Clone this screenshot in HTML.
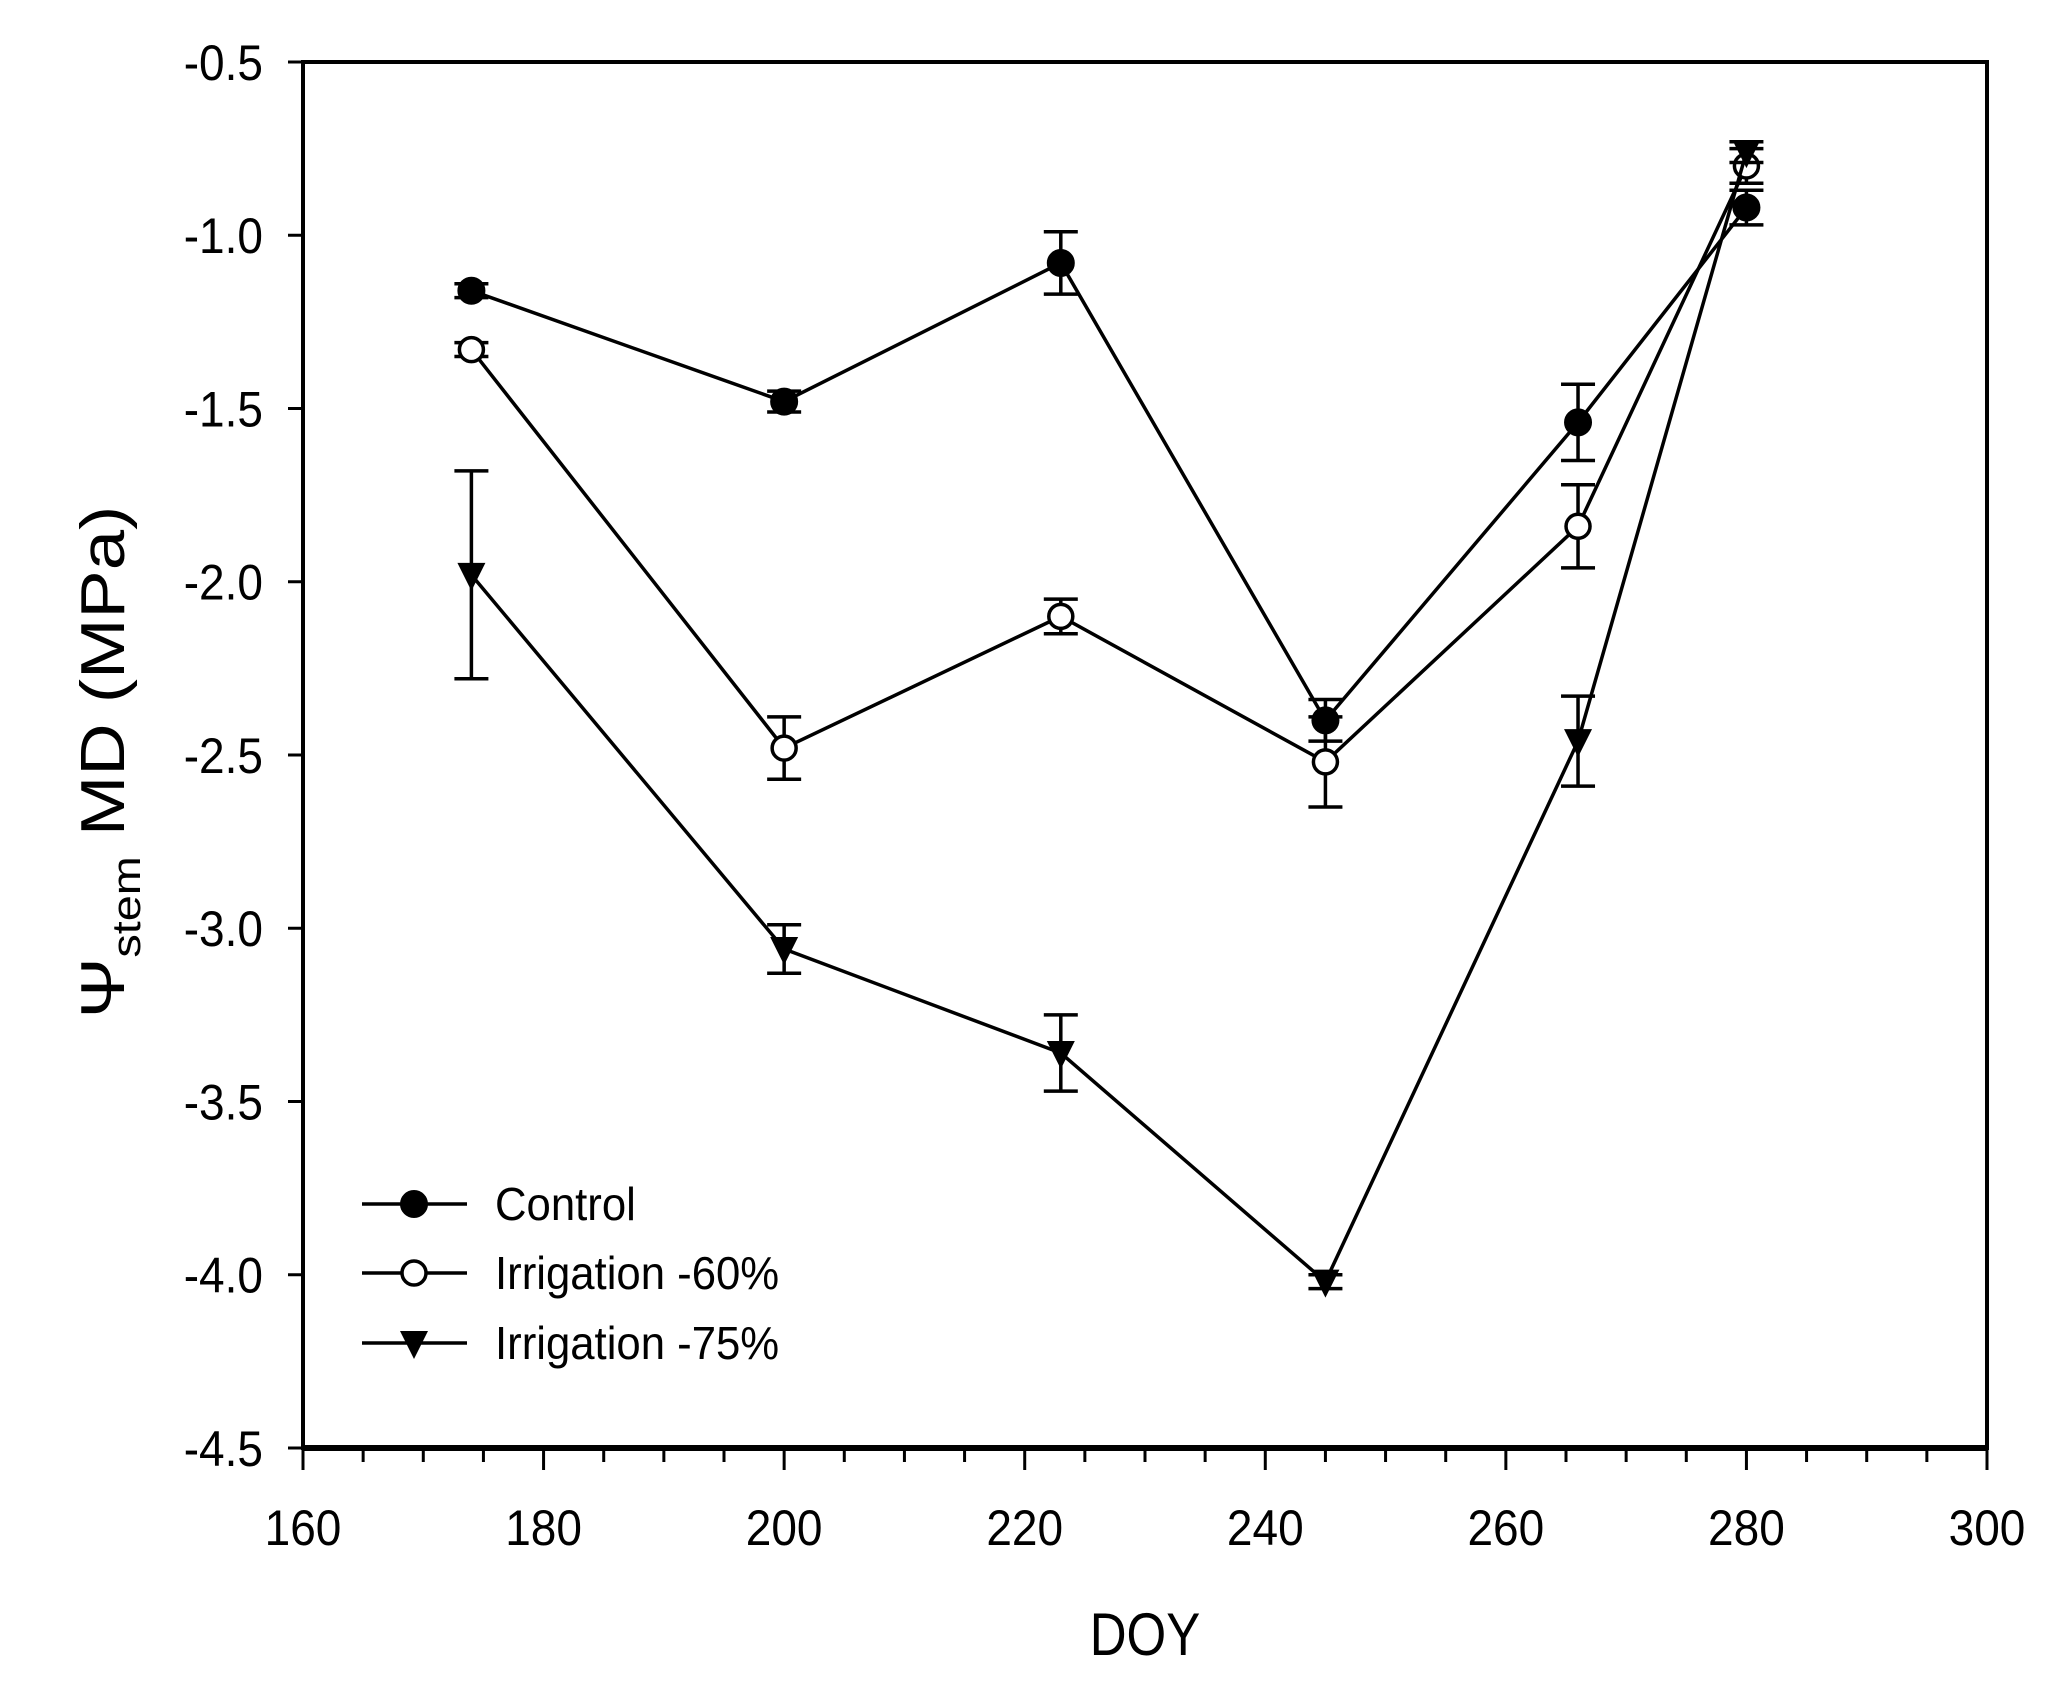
<!DOCTYPE html>
<html><head><meta charset="utf-8">
<style>
html,body{margin:0;padding:0;background:#fff;}
svg{display:block;}
text{font-family:"Liberation Sans",Arial,sans-serif;fill:#000;}
</style></head>
<body>
<svg id="chart" width="2051" height="1683" viewBox="0 0 2051 1683" xmlns="http://www.w3.org/2000/svg">
<g id="axes"></g>
<g id="series"></g>
<g id="legend"></g>
<text x="1145" y="1655" font-size="60" text-anchor="middle" transform="translate(1145 1655) scale(0.85 1) translate(-1145 -1655)">DOY</text>
<text transform="translate(124 762) rotate(-90) scale(1.17 1)" font-size="62" text-anchor="middle">Ψ<tspan font-size="40" dy="16">stem</tspan><tspan dy="-16"> MD (MPa)</tspan></text>
</svg>
<script>
const doy = [174, 200, 223, 245, 266, 280];
const controlVals = [-1.16, -1.48, -1.08, -2.40, -1.54, -0.92];
const controlErr = [0.02, 0.03, 0.09, 0.06, 0.11, 0.05];
const irr60Vals = [-1.33, -2.48, -2.10, -2.52, -1.84, -0.80];
const irr60Err = [0.02, 0.09, 0.05, 0.13, 0.12, 0.05];
const irr75Vals = [-1.98, -3.06, -3.36, -4.02, -2.46, -0.76];
const irr75Err = [0.30, 0.07, 0.11, 0.02, 0.13, 0.03];
const xTicks = [160, 180, 200, 220, 240, 260, 280, 300];
const yTicks = [-0.5, -1.0, -1.5, -2.0, -2.5, -3.0, -3.5, -4.0, -4.5];

const L=303,R=1987,T=62,B=1448;
const xMin=160,xMax=300,yMin=-4.5,yMax=-0.5;
const X=v=>L+(v-xMin)/(xMax-xMin)*(R-L);
const Y=v=>B-(v-yMin)/(yMax-yMin)*(B-T);
const NS="http://www.w3.org/2000/svg";
function mk(tag,attrs,parent){const e=document.createElementNS(NS,tag);for(const k in attrs)e.setAttribute(k,attrs[k]);parent.appendChild(e);return e;}

const axes=document.getElementById('axes');
const frame=mk('rect',{x:L,y:T,width:R-L,height:B-T,fill:'none',stroke:'#000','stroke-width':4},axes);


mk('line',{x1:L,x2:R,y1:B,y2:B,stroke:'#000','stroke-width':6},axes);
for(let v=xMin;v<=xMax;v+=5){
  const major=(v%20===0);
  const t=mk('line',{x1:X(v),x2:X(v),y1:B,y2:B+(major?22:14),stroke:'#000','stroke-width':3},axes);
  
  
}
xTicks.forEach(v=>{
  const t=mk('text',{x:X(v),y:1545,'font-size':50,'text-anchor':'middle',transform:`translate(${X(v)} 0) scale(0.92 1) translate(${-X(v)} 0)`},axes);
  t.textContent=String(v);
  
  
});
yTicks.forEach(v=>{
  const t=mk('line',{x1:L-15,x2:L,y1:Y(v),y2:Y(v),stroke:'#000','stroke-width':3},axes);
  
  
  const l=mk('text',{x:263,y:Y(v)+18,'font-size':50,'text-anchor':'end',transform:`translate(263 0) scale(0.92 1) translate(-263 0)`},axes);
  l.textContent=v.toFixed(1);
  
  
});

const seriesG=document.getElementById('series');
function marker(type,cx,cy,parent){
  let m;
  if(type==='filled') m=mk('circle',{cx:cx,cy:cy,r:13,fill:'#000',stroke:'#000','stroke-width':2},parent);
  else if(type==='open') m=mk('circle',{cx:cx,cy:cy,r:12,fill:'#fff',stroke:'#000','stroke-width':3.5},parent);
  else m=mk('polygon',{points:`${cx-14},${cy-12} ${cx+14},${cy-12} ${cx},${cy+16}`,fill:'#000'},parent);
  return m;
}
function drawSeries(name,vals,errs,type){
  const g=mk('g',{},seriesG);
  
  
  const pts=doy.map((d,i)=>X(d)+','+Y(vals[i])).join(' ');
  const ln=mk('polyline',{points:pts,fill:'none',stroke:'#000','stroke-width':3.5},g);
  
  
  doy.forEach((d,i)=>{
    const x=X(d),y1=Y(vals[i]+errs[i]),y2=Y(vals[i]-errs[i]);
    const e=mk('path',{d:`M${x-17},${y1}H${x+17}M${x},${y1}V${y2}M${x-17},${y2}H${x+17}`,stroke:'#000','stroke-width':3.5,fill:'none'},g);
    
    
  });
  doy.forEach((d,i)=>{
    const m=marker(type,X(d),Y(vals[i]),g);
    
    
  });
}
drawSeries('control',controlVals,controlErr,'filled');
drawSeries('irrigation-60',irr60Vals,irr60Err,'open');
drawSeries('irrigation-75',irr75Vals,irr75Err,'tri');

const legend=document.getElementById('legend');
const entries=[['Control','filled',1204],['Irrigation -60%','open',1273],['Irrigation -75%','tri',1343]];
entries.forEach(([label,type,y])=>{
  const g=mk('g',{},legend);
  
  
  mk('line',{x1:362,x2:467,y1:y,y2:y,stroke:'#000','stroke-width':3.5},g);
  marker(type,414,y,g);
  const t=mk('text',{x:495,y:y+16,'font-size':46,transform:`translate(495 0) scale(0.95 1) translate(-495 0)`},g);
  t.textContent=label;
});
</script>
</body></html>
